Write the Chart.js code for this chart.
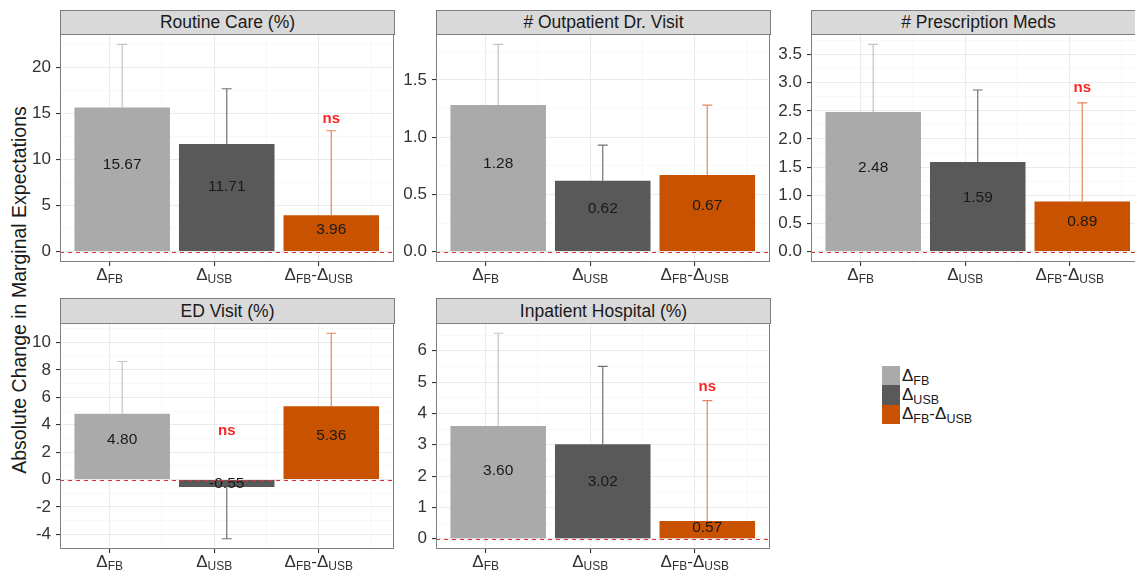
<!DOCTYPE html>
<html>
<head>
<meta charset="utf-8">
<script src="https://cdn.jsdelivr.net/npm/chart.js@4.4.1/dist/chart.umd.min.js"></script>
<style>
  body { margin: 0; width: 1135px; height: 572px; overflow: hidden; background: #fff; position: relative; font-family: "Liberation Sans", Arial, sans-serif; }
  .strip { position: absolute; box-sizing: border-box; background: #d9d9d9; border: 1px solid #7f7f7f; color: #1a1a1a; font-size: 17.5px; text-align: center; }
  .panel { position: absolute; }
  #y-title { position: absolute; left: 19px; top: 290px; transform: translate(-50%, -50%) rotate(-90deg); white-space: nowrap; font-size: 19.5px; color: #1a1a1a; }
  .legend { position: absolute; left: 882px; top: 366px; font-size: 17px; color: #1a1a1a; }
  .legend .row { height: 19.3px; display: flex; align-items: center; }
  .legend .key { width: 18px; height: 100%; margin-right: 2px; }
  .legend sub { font-size: 12.5px; vertical-align: -4px; line-height: 0; }
</style>
</head>
<body>
<div id="y-title">Absolute Change in Marginal Expectations</div>
<div class="legend" id="legend"></div>
<script>
// categories: main text / subscript pieces
const categoryLabels = [['Δ', 'FB'], ['Δ', 'USB'], ['Δ', 'FB', '-Δ', 'USB']];
const panelTitles = ['Routine Care (%)', '# Outpatient Dr. Visit', '# Prescription Meds', 'ED Visit (%)', 'Inpatient Hospital (%)'];

// estimates
const routineCare = [15.67, 11.71, 3.96];
const outpatientVisit = [1.28, 0.62, 0.67];
const prescriptionMeds = [2.48, 1.59, 0.89];
const edVisit = [4.80, -0.55, 5.36];
const inpatientHospital = [3.60, 3.02, 0.57];

// error bar lengths (drawn away from zero)
const routineCareErr = [6.88, 6.01, 9.19];
const outpatientVisitErr = [0.53, 0.31, 0.61];
const prescriptionMedsErr = [1.20, 1.28, 1.75];
const edVisitErr = [3.82, 3.77, 5.32];
const inpatientHospitalErr = [2.96, 2.48, 3.84];

// not significant markers
const routineCareNs = [false, false, true];
const outpatientVisitNs = [false, false, false];
const prescriptionMedsNs = [false, false, true];
const edVisitNs = [false, true, false];
const inpatientHospitalNs = [false, false, true];

// y tick step and decimals for each panel
const yStep = [5, 0.5, 0.5, 2, 1];
const yDigits = [0, 1, 1, 0, 0];

const barColors = ['#aaaaaa', '#595959', '#c85200'];
const errColors = ['#c4c4c4', '#707070', '#e3875a'];

const panels = [
    { values: routineCare, err: routineCareErr, ns: routineCareNs },
    { values: outpatientVisit, err: outpatientVisitErr, ns: outpatientVisitNs },
    { values: prescriptionMeds, err: prescriptionMedsErr, ns: prescriptionMedsNs },
    { values: edVisit, err: edVisitErr, ns: edVisitNs },
    { values: inpatientHospital, err: inpatientHospitalErr, ns: inpatientHospitalNs }
];

// layout
const AXIS_W = 55, AXIS_H = 30, PANEL_W = 334;
const colLeft = [60, 436, 811];
const rowStripTop = [10, 298];
const rowStripH = [25, 26];
const rowPlotH = [228, 226];
const BAR_SHIFT = 0.12;
const FONT = '"Liberation Sans", Arial, sans-serif';

// legend
const legend = document.getElementById('legend');
categoryLabels.forEach((parts, i) => {
    const html = parts.map((t, j) => j % 2 ? '<sub>' + t + '</sub>' : t).join('');
    legend.innerHTML += '<div class="row"><span class="key" style="background:' + barColors[i] + '"></span><span>' + html + '</span></div>';
});

function isMajor(v, step) {
    return Math.abs(v / step - Math.round(v / step)) < 1e-6;
}

function noPadding(s) {
    s.paddingTop = 0;
    s.paddingBottom = 0;
    s.paddingLeft = 0;
    s.paddingRight = 0;
}

function drawSubLabel(ctx, parts, cx, baseY, big, small, color) {
    const fonts = parts.map((_, j) => (j % 2 ? small : big) + 'px ' + FONT);
    let w = 0;
    parts.forEach((t, j) => { ctx.font = fonts[j]; w += ctx.measureText(t).width; });
    let xx = cx - w / 2;
    ctx.textAlign = 'left';
    ctx.textBaseline = 'alphabetic';
    ctx.fillStyle = color;
    parts.forEach((t, j) => {
        ctx.font = fonts[j];
        ctx.fillText(t, xx, baseY + (j % 2 ? 2.5 : 0));
        xx += ctx.measureText(t).width;
    });
}

const panelDecor = {
    id: 'panelDecor',
    beforeDatasetsDraw(chart) {
        // minor x grid lines between categories
        const { ctx, chartArea: a, scales: { x } } = chart;
        ctx.save();
        ctx.strokeStyle = '#f3f3f3';
        ctx.lineWidth = 0.6;
        [1.5, 2.5, 3.5].forEach(v => {
            const px = x.getPixelForValue(v);
            ctx.beginPath();
            ctx.moveTo(px, a.top);
            ctx.lineTo(px, a.bottom);
            ctx.stroke();
        });
        ctx.restore();
    },
    afterDatasetsDraw(chart, args, opts) {
        const { ctx, scales: { y } } = chart;
        const meta = chart.getDatasetMeta(0);
        const values = chart.data.datasets[0].data.map(d => d.y);
        ctx.save();
        meta.data.forEach((bar, i) => {
            const v = values[i];
            const end = v + Math.sign(v) * opts.err[i];
            const yv = y.getPixelForValue(v), ye = y.getPixelForValue(end);
            ctx.strokeStyle = errColors[i];
            ctx.lineWidth = 1.2;
            ctx.beginPath();
            ctx.moveTo(bar.x, yv);
            ctx.lineTo(bar.x, ye);
            ctx.moveTo(bar.x - 5, ye);
            ctx.lineTo(bar.x + 5, ye);
            ctx.stroke();

            ctx.fillStyle = '#1a1a1a';
            ctx.font = '15.5px ' + FONT;
            ctx.textAlign = 'center';
            ctx.textBaseline = 'middle';
            ctx.fillText(v.toFixed(2), bar.x, y.getPixelForValue(v * 0.6));

            if (opts.ns[i]) {
                ctx.fillStyle = '#ff2222';
                ctx.font = 'bold 15px ' + FONT;
                ctx.fillText('ns', bar.x, y.getPixelForValue((v + opts.err[i]) * 1.1));
            }
        });
        ctx.restore();
    },
    afterDraw(chart) {
        const { ctx, chartArea: a, scales: { x, y } } = chart;
        ctx.save();
        // dashed zero line
        const y0 = Math.round(y.getPixelForValue(0)) + 0.5;
        ctx.strokeStyle = '#e03030';
        ctx.lineWidth = 1.1;
        ctx.setLineDash([4, 4]);
        ctx.beginPath();
        ctx.moveTo(a.left, y0);
        ctx.lineTo(a.right, y0);
        ctx.stroke();
        ctx.setLineDash([]);
        // panel border
        ctx.strokeStyle = '#7f7f7f';
        ctx.lineWidth = 1;
        ctx.strokeRect(a.left + 0.5, a.top + 0.5, a.width - 1, a.height - 1);
        categoryLabels.forEach((parts, i) => {
            drawSubLabel(ctx, parts, x.getPixelForValue(i + 1), a.bottom + 18, 17, 12, '#333333');
        });
        ctx.restore();
    }
};

panels.forEach((p, k) => {
    const col = k % 3, row = Math.floor(k / 3);
    const left = colLeft[col];
    const stripTop = rowStripTop[row];
    const plotTop = stripTop + rowStripH[row] - 1;
    const plotH = rowPlotH[row];

    const strip = document.createElement('div');
    strip.className = 'strip';
    strip.style.cssText = 'left:' + left + 'px;top:' + stripTop + 'px;width:' + (PANEL_W + 1) + 'px;height:' + rowStripH[row] + 'px;line-height:' + (rowStripH[row] - 2) + 'px';
    strip.textContent = panelTitles[k];
    document.body.appendChild(strip);

    const wrap = document.createElement('div');
    wrap.className = 'panel';
    wrap.style.cssText = 'left:' + (left - AXIS_W) + 'px;top:' + plotTop + 'px';
    const canvas = document.createElement('canvas');
    canvas.width = AXIS_W + PANEL_W + 1;
    canvas.height = plotH + AXIS_H;
    wrap.appendChild(canvas);
    document.body.appendChild(wrap);

    // ggplot-like range: include zero and whisker ends, 5% expansion
    const ends = p.values.map((v, i) => v + Math.sign(v) * p.err[i]);
    const lo = Math.min(0, ...ends), hi = Math.max(0, ...ends);
    const pad = (hi - lo) * 0.05;
    const step = yStep[k], half = step / 2;

    new Chart(canvas.getContext('2d'), {
        type: 'bar',
        data: {
            datasets: [{
                data: p.values.map((v, i) => ({ x: i + 1 + BAR_SHIFT, y: v })),
                backgroundColor: barColors,
                barPercentage: 0.914,
                categoryPercentage: 1
            }]
        },
        options: {
            responsive: false,
            animation: false,
            layout: { padding: { top: 0, right: 1, left: 0, bottom: 0 } },
            plugins: {
                legend: { display: false },
                tooltip: { enabled: false },
                panelDecor: { err: p.err, ns: p.ns }
            },
            scales: {
                x: {
                    type: 'linear',
                    min: 0.525,
                    max: 3.72,
                    offset: false,
                    bounds: 'data',
                    afterBuildTicks: s => { s.ticks = [1, 2, 3].map(v => ({ value: v })); },
                    afterFit: s => { s.height = AXIS_H; noPadding(s); },
                    ticks: { callback: () => '', autoSkip: false },
                    grid: { offset: false, color: '#ebebeb', lineWidth: 1.1, tickColor: '#333333', tickLength: 4 },
                    border: { display: false }
                },
                y: {
                    min: lo - pad,
                    max: hi + pad,
                    bounds: 'data',
                    afterBuildTicks: s => {
                        const t = [];
                        for (let v = Math.ceil(s.min / half) * half; v <= s.max + 1e-9; v += half) {
                            t.push({ value: +v.toFixed(6) });
                        }
                        s.ticks = t;
                    },
                    afterFit: s => { s.width = AXIS_W; noPadding(s); },
                    ticks: {
                        autoSkip: false,
                        color: '#333333',
                        padding: 5,
                        font: { size: 17, family: FONT },
                        callback: v => isMajor(v, step) ? v.toFixed(yDigits[k]) : ''
                    },
                    grid: {
                        color: c => isMajor(c.tick.value, step) ? '#ebebeb' : '#f3f3f3',
                        lineWidth: c => isMajor(c.tick.value, step) ? 1.1 : 0.6,
                        tickColor: c => isMajor(c.tick.value, step) ? '#333333' : 'rgba(0,0,0,0)',
                        tickLength: 4
                    },
                    border: { display: false }
                }
            }
        },
        plugins: [panelDecor]
    });
});
</script>
</body>
</html>
